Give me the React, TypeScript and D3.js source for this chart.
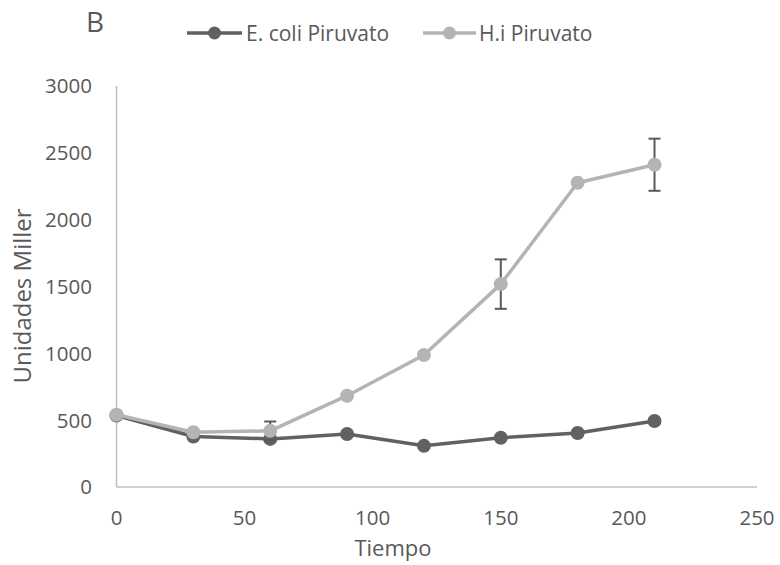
import React from "react";
import * as d3 from "d3";

const times = [0, 30, 60, 90, 120, 150, 180, 210];
const ecoli = [535, 378, 360, 397, 308, 368, 404, 494];
const hi = [540, 410, 420, 683, 987, 1518, 2276, 2411];
const hiErr = [0, 0, 70, 0, 0, 185, 0, 195];
const xTicks = [0, 50, 100, 150, 200, 250];
const yTicks = [0, 500, 1000, 1500, 2000, 2500, 3000];
const seriesNames = ["E. coli Piruvato", "H.i Piruvato"];

const W = 780, H = 565;
const FONT = "'Open Sans', sans-serif";
const TEXT = "#595959";
const C_EC = "#616161";
const C_HI = "#b4b4b4";

export default function App() {
  const x = d3.scaleLinear().domain([0, 250]).range([116.5, 757]);
  const y = d3.scaleLinear().domain([0, 3000]).range([487, 86]);
  const line = d3.line<number>().x((_, i) => x(times[i])).y((d) => y(d));

  return (
    <svg width={W} height={H} style={{ position: "absolute", left: 0, top: 0, background: "#fff" }} fontFamily={FONT}>
      <rect width={W} height={H} fill="#fff" />
      {/* axes */}
      <line x1={x(0)} x2={x(0)} y1={y(0)} y2={y(3000)} stroke="#bfbfbf" strokeWidth={1.5} />
      <line x1={x(0)} x2={x(250)} y1={y(0)} y2={y(0)} stroke="#bfbfbf" strokeWidth={1.5} />
      {yTicks.map((t) => (
        <text key={t} x={92} y={y(t)} dy="0.36em" textAnchor="end" fontSize={20.5} fill={TEXT}>{t}</text>
      ))}
      {xTicks.map((t) => (
        <text key={t} x={x(t)} y={518} dy="0.36em" textAnchor="middle" fontSize={20.5} fill={TEXT}>{t}</text>
      ))}
      <text x={393} y={548} dy="0.36em" textAnchor="middle" fontSize={22} fill={TEXT}>Tiempo</text>
      <text transform="translate(22,296) rotate(-90)" dy="0.36em" textAnchor="middle" fontSize={24} fill={TEXT}>Unidades Miller</text>
      <text x={86} y={22} dy="0.36em" fontSize={28} fill={TEXT}>B</text>

      {/* E. coli series */}
      <path d={line(ecoli) || ""} fill="none" stroke={C_EC} strokeWidth={3.5} strokeLinejoin="round" />
      {ecoli.map((v, i) => (
        <circle key={i} cx={x(times[i])} cy={y(v)} r={7} fill={C_EC} />
      ))}
      {/* error bars H.i */}
      {hiErr.map((e, i) =>
        e > 0 ? (
          <g key={i} stroke="#595959" strokeWidth={2}>
            <line x1={x(times[i])} x2={x(times[i])} y1={y(hi[i] - e)} y2={y(hi[i] + e)} />
            <line x1={x(times[i]) - 6} x2={x(times[i]) + 6} y1={y(hi[i] - e)} y2={y(hi[i] - e)} />
            <line x1={x(times[i]) - 6} x2={x(times[i]) + 6} y1={y(hi[i] + e)} y2={y(hi[i] + e)} />
          </g>
        ) : null
      )}
      {/* H.i series */}
      <path d={line(hi) || ""} fill="none" stroke={C_HI} strokeWidth={3.5} strokeLinejoin="round" />
      {hi.map((v, i) => (
        <circle key={i} cx={x(times[i])} cy={y(v)} r={7} fill={C_HI} />
      ))}

      {/* legend */}
      <g>
        <line x1={187} x2={242} y1={33} y2={33} stroke={C_EC} strokeWidth={3.5} />
        <circle cx={214.5} cy={33} r={6.5} fill={C_EC} />
        <text x={246} y={33} dy="0.36em" fontSize={21} fill={TEXT}>{seriesNames[0]}</text>
        <line x1={423} x2={476} y1={33} y2={33} stroke={C_HI} strokeWidth={3.5} />
        <circle cx={449.5} cy={33} r={6.5} fill={C_HI} />
        <text x={479} y={33} dy="0.36em" fontSize={21} fill={TEXT}>{seriesNames[1]}</text>
      </g>
    </svg>
  );
}
